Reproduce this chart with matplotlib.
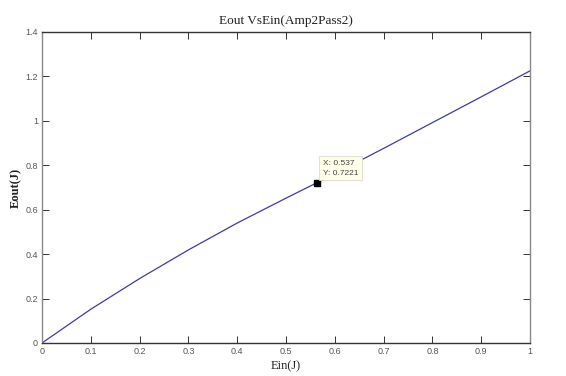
#!/usr/bin/env python3

""" Plot Eout vs Ein for Amp2Pass2 """

import matplotlib
matplotlib.use('Agg')
import matplotlib.pyplot as plt

# values
ein = [0, 0.1, 0.2, 0.3, 0.4, 0.5, 0.564, 0.6, 0.7, 0.8, 0.9, 1.0]
eout = [0, 0.152, 0.290, 0.419, 0.540, 0.652, 0.7221, 0.762, 0.876,
        0.992, 1.108, 1.225]
# data tip: drawn where it sits on the curve, labelled as in the reference
tipX, tipY = 0.564, 0.7221
tipText = 'X: 0.537\nY: 0.7221'
xTicks = [0, 0.1, 0.2, 0.3, 0.4, 0.5, 0.6, 0.7, 0.8, 0.9, 1]
xLabels = ['0', '0.1', '0.2', '0.3', '0.4', '0.5', '0.6', '0.7', '0.8', '0.9', '1']
yTicks = [0, 0.2, 0.4, 0.6, 0.8, 1.0, 1.2, 1.4]
yLabels = ['0', '0.2', '0.4', '0.6', '0.8', '1', '1.2', '1.4']


def plotCurve(out='out.png'):
    fig = plt.figure(figsize=(5.66, 3.76), dpi=100)
    ax = fig.add_axes([0.0742, 0.0878, 0.8622, 0.8271])

    ax.plot(ein, eout, color='#3c3ca6', linewidth=0.9)
    ax.plot([tipX], [tipY], marker='s', markersize=4.5, color='black',
            linestyle='none')
    ax.annotate(tipText, xy=(tipX, tipY),
                xytext=(6, 6), textcoords='offset pixels',
                ha='left', va='bottom', fontsize=6,
                family='Liberation Sans', color='#444444', linespacing=1.6,
                bbox=dict(boxstyle='square,pad=0.45', fc='#ffffea',
                          ec='#dcdccc', lw=0.6))

    ax.set_xlim(0, 1)
    ax.set_ylim(0, 1.4)
    ax.set_xticks(xTicks)
    ax.set_xticklabels(xLabels)
    ax.set_yticks(yTicks)
    ax.set_yticklabels(yLabels)
    ax.tick_params(direction='in', length=5, width=0.7, colors='#333333',
                   labelsize=6.5, top=True, right=True, pad=3)
    for label in ax.get_xticklabels() + ax.get_yticklabels():
        label.set_family('Liberation Sans')
        label.set_color('#555555')
    for spine in ax.spines.values():
        spine.set_color('#333333')
        spine.set_linewidth(1.0)
    ax.spines['left'].set_color('#888888')
    ax.spines['right'].set_color('#888888')

    ax.set_title('Eout VsEin(Amp2Pass2)', family='Liberation Serif',
                 fontsize=9.5, pad=6, color='#222222')
    ax.set_xlabel('Ein(J)', family='Liberation Serif', fontsize=9,
                  labelpad=3, color='#222222')
    ax.set_ylabel('Eout(J)', family='Liberation Serif', fontsize=9,
                  fontweight='bold', labelpad=2, color='#222222')

    fig.savefig(out, dpi=100)


if __name__ == '__main__':
    plotCurve()
